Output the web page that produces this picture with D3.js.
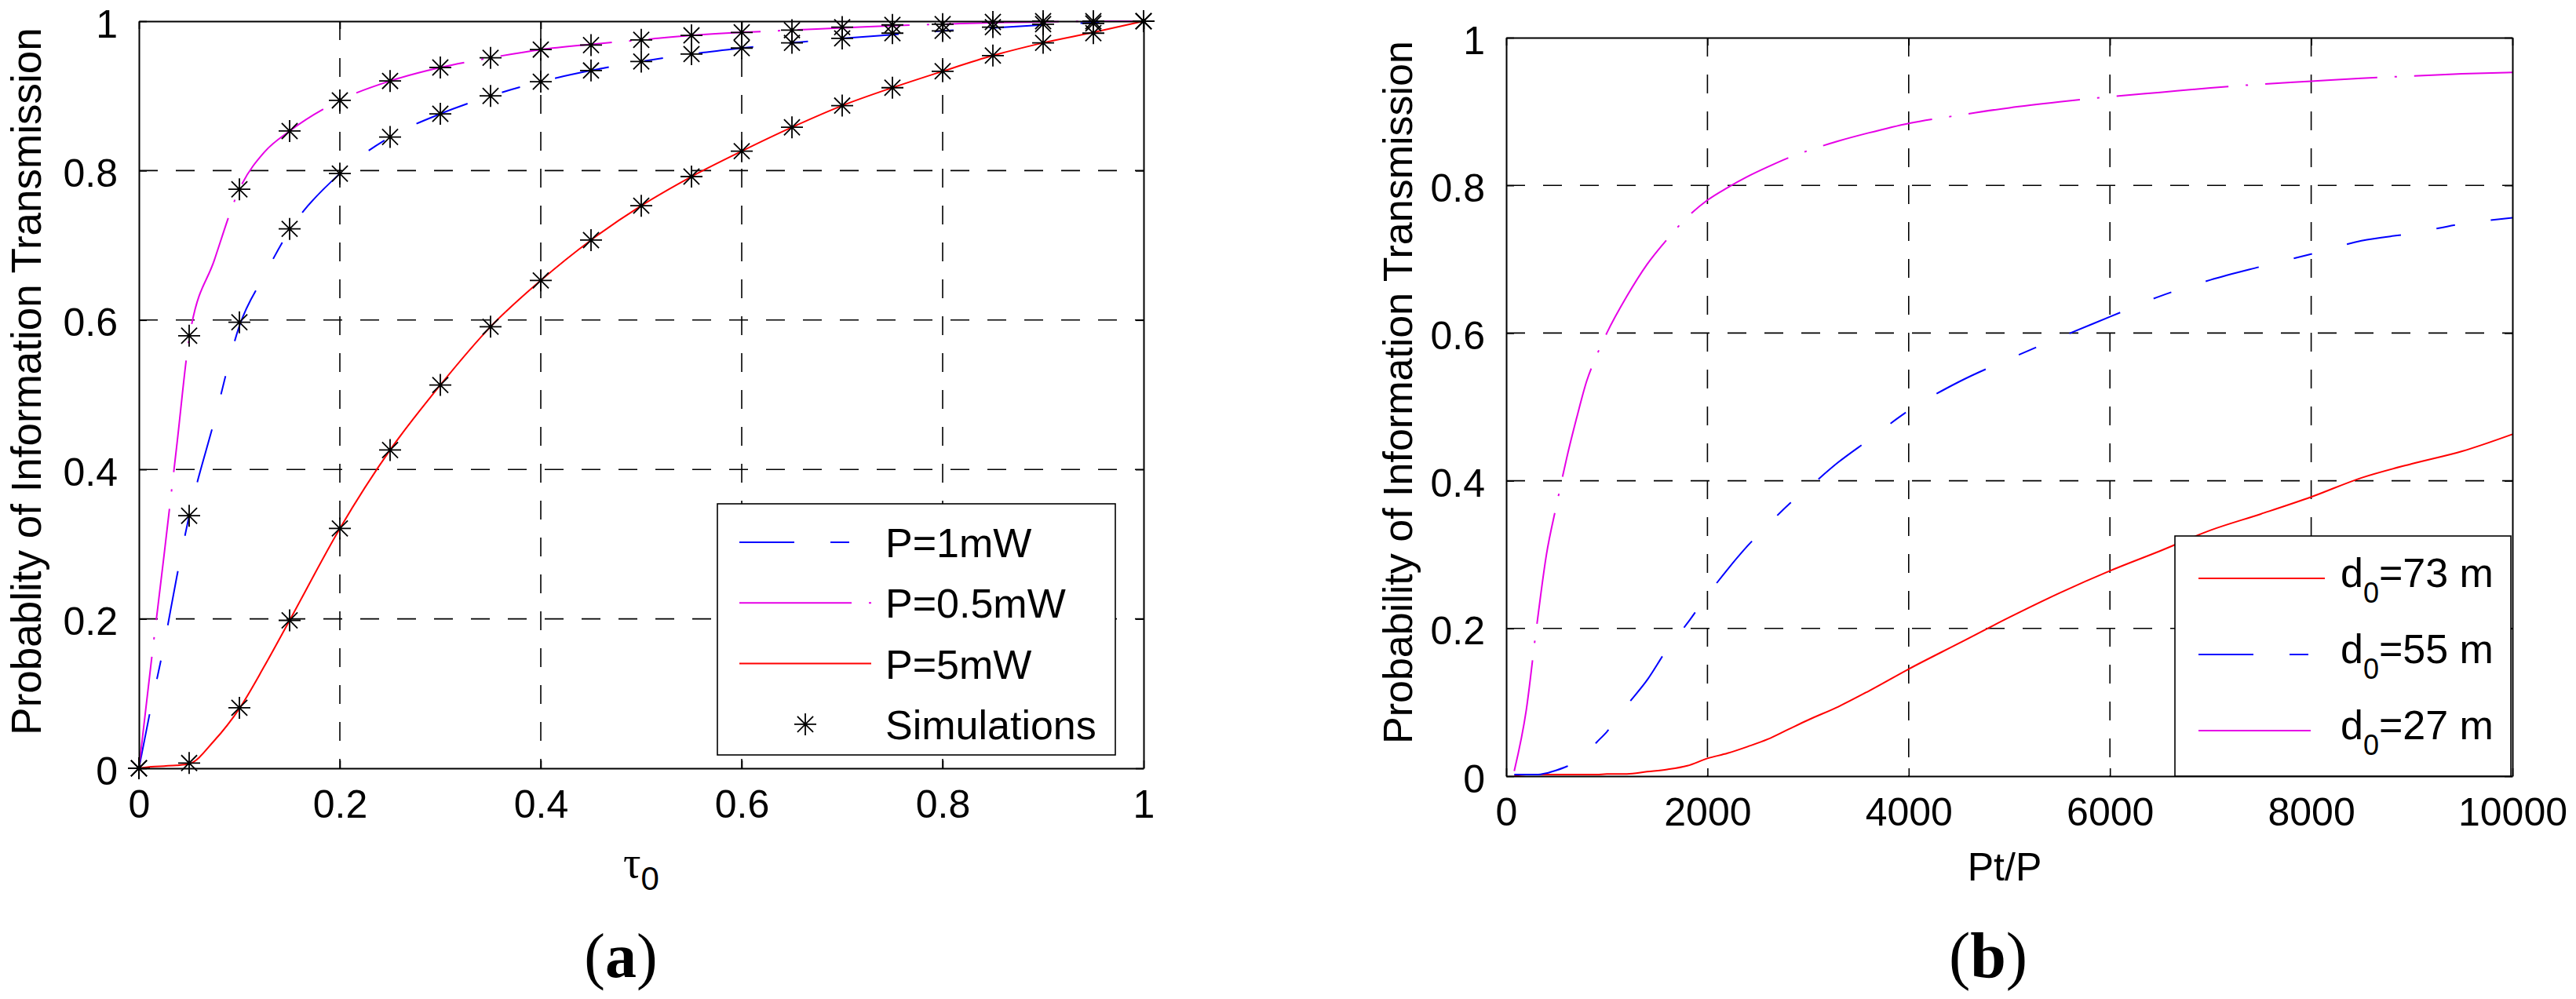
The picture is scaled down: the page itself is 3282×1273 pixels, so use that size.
<!DOCTYPE html>
<html><head><meta charset="utf-8">
<script src="https://cdn.jsdelivr.net/npm/d3@7"></script>
<style>html,body{margin:0;padding:0;background:#fff;} svg{display:block;}</style>
</head><body>
<svg id="c" width="3282" height="1273"></svg>
<script>
// ---------- Panel (a) data ----------
const tauTicks = [0, 0.2, 0.4, 0.6, 0.8, 1];
const tauTickLabels = ["0", "0.2", "0.4", "0.6", "0.8", "1"];
const probTicks = [0, 0.2, 0.4, 0.6, 0.8, 1];
const probTickLabels = ["0", "0.2", "0.4", "0.6", "0.8", "1"];

const tauLine = [0, 0.0125, 0.025, 0.0375, 0.05, 0.075, 0.1, 0.125, 0.15,
  0.2, 0.25, 0.3, 0.35, 0.4, 0.45, 0.5, 0.55, 0.6, 0.65, 0.7, 0.75, 0.8, 0.85, 0.9, 0.95, 1];
const lineP1mW = [0, 0.085, 0.165, 0.255, 0.338, 0.465, 0.592, 0.66, 0.72,
  0.796, 0.845, 0.876, 0.900, 0.919, 0.934, 0.946, 0.956, 0.964, 0.971, 0.977, 0.982, 0.987, 0.991, 0.995, 0.998, 1.0];
const lineP05mW = [0, 0.145, 0.285, 0.43, 0.575, 0.68, 0.775, 0.825, 0.853,
  0.894, 0.920, 0.938, 0.951, 0.962, 0.969, 0.975, 0.981, 0.985, 0.988, 0.991, 0.994, 0.996, 0.998, 0.999, 1.0, 1.0];
const lineP5mW = [0, 0.002, 0.003, 0.004, 0.006, 0.037, 0.08, 0.137, 0.198,
  0.321, 0.426, 0.513, 0.591, 0.653, 0.707, 0.753, 0.792, 0.826, 0.858, 0.887, 0.911, 0.933, 0.954, 0.971, 0.985, 1.0];

const tauSim = [0, 0.05, 0.1, 0.15, 0.2, 0.25, 0.3, 0.35, 0.4, 0.45, 0.5, 0.55, 0.6, 0.65, 0.7, 0.75, 0.8, 0.85, 0.9, 0.95, 1];
const simP1mW = [0, 0.338, 0.597, 0.722, 0.796, 0.845, 0.876, 0.900, 0.919, 0.934, 0.946, 0.956, 0.964, 0.971, 0.977, 0.984, 0.987, 0.992, 0.996, 0.997, 1.0];
const simP05mW = [0, 0.579, 0.775, 0.853, 0.894, 0.920, 0.938, 0.951, 0.962, 0.968, 0.975, 0.981, 0.985, 0.988, 0.992, 0.995, 0.996, 0.999, 1.0, 1.0, 1.0];
const simP5mW = [0, 0.007, 0.081, 0.198, 0.321, 0.426, 0.513, 0.591, 0.653, 0.707, 0.753, 0.792, 0.826, 0.858, 0.887, 0.911, 0.933, 0.954, 0.971, 0.984, 1.0];

const legendA = ["P=1mW", "P=0.5mW", "P=5mW", "Simulations"];

// ---------- Panel (b) data ----------
const ptTicks = [0, 2000, 4000, 6000, 8000, 10000];
const ptTickLabels = ["0", "2000", "4000", "6000", "8000", "10000"];
const ptP = [80, 200, 300, 400, 500, 600, 700, 800, 900, 1000, 1200, 1400, 1600, 1800, 2000,
  2200, 2400, 2600, 2800, 3000, 3300, 3600, 4000, 4500, 5000, 5500, 6000, 6500, 7000, 7500,
  8000, 8500, 9000, 9500, 10000];
const d73 = [0, 0.002, 0.002, 0.002, 0.002, 0.002, 0.002, 0.002, 0.002, 0.003, 0.003, 0.006, 0.009, 0.014, 0.024,
  0.031, 0.04, 0.05, 0.063, 0.076, 0.094, 0.115, 0.145, 0.18, 0.215, 0.248, 0.278, 0.305, 0.333, 0.355,
  0.378, 0.404, 0.423, 0.44, 0.463];
const d55 = [0.002, 0.002, 0.002, 0.004, 0.008, 0.013, 0.02, 0.032, 0.046, 0.06, 0.096, 0.13, 0.172, 0.207, 0.245,
  0.28, 0.312, 0.34, 0.367, 0.39, 0.425, 0.455, 0.495, 0.534, 0.565, 0.594, 0.622, 0.65, 0.672, 0.69,
  0.707, 0.725, 0.735, 0.748, 0.756];
const d27 = [0.007, 0.09, 0.20, 0.30, 0.367, 0.43, 0.485, 0.535, 0.57, 0.60, 0.65, 0.693, 0.727, 0.757, 0.78,
  0.797, 0.812, 0.825, 0.837, 0.847, 0.86, 0.871, 0.884, 0.895, 0.905, 0.913, 0.92, 0.926, 0.932, 0.937,
  0.941, 0.945, 0.948, 0.951, 0.953];
const legendB = [["d", "0", "=73 m"], ["d", "0", "=55 m"], ["d", "0", "=27 m"]];

// ---------- drawing ----------
const svg = d3.select("#c");
const SANS = "'Liberation Sans', Arial, Helvetica, sans-serif";
const SERIF = "'Liberation Serif', 'Times New Roman', serif";
const BLUE = "#0000ff", MAG = "#e600e6", RED = "#ff0000";
const DASH_BLUE = "70,46,24,46", DASH_MAG = "143,22,3,22";

const asterisk = {
  draw(ctx, size) {
    const r = Math.sqrt(size) / 2, d = r * 0.72;
    ctx.moveTo(-r, 0); ctx.lineTo(r, 0);
    ctx.moveTo(0, -r); ctx.lineTo(0, r);
    ctx.moveTo(-d, -d); ctx.lineTo(d, d);
    ctx.moveTo(-d, d); ctx.lineTo(d, -d);
  }
};
const starPath = d3.symbol().type(asterisk).size(28 * 28)();

function makePanel(cfg) {
  const g = svg.append("g");
  const x = d3.scaleLinear().domain(cfg.xDomain).range([cfg.x0, cfg.x1]);
  const y = d3.scaleLinear().domain([0, 1]).range([cfg.y1, cfg.y0]);

  // grid
  const grid = g.append("g").attr("stroke", "#000").attr("stroke-width", 1.6).attr("stroke-dasharray", "24,23");
  grid.selectAll("line.gx").data(cfg.xTicks.slice(1, -1)).join("line").attr("class", "gx")
    .attr("x1", d => x(d)).attr("x2", d => x(d)).attr("y1", cfg.y0).attr("y2", cfg.y1);
  grid.selectAll("line.gy").data(probTicks.slice(1, -1)).join("line").attr("class", "gy")
    .attr("y1", d => y(d)).attr("y2", d => y(d)).attr("x1", cfg.x0).attr("x2", cfg.x1);

  // series
  const line = d3.line().x(d => x(d[0])).y(d => y(d[1])).curve(d3.curveMonotoneX);
  cfg.series.forEach(s => {
    g.append("path").datum(s.xs.map((v, i) => [v, s.ys[i]]))
      .attr("d", line).attr("fill", "none").attr("stroke", s.color).attr("stroke-width", 2)
      .attr("stroke-dasharray", s.dash || null);
  });
  (cfg.sims || []).forEach(s => {
    g.append("g").selectAll("path").data(s.ys).join("path")
      .attr("d", starPath)
      .attr("transform", (d, i) => `translate(${x(s.xs[i])},${y(d)})`)
      .attr("fill", "none").attr("stroke", "#000").attr("stroke-width", 1.8);
  });

  // axes
  const style = sel => {
    sel.attr("font-size", 50).attr("font-family", SANS);
    sel.selectAll(".domain").attr("stroke-width", 2);
    sel.selectAll(".tick line").attr("stroke-width", 1.6);
    sel.selectAll("text").attr("fill", "#000");
  };
  g.append("g").attr("transform", `translate(0,${cfg.y1})`)
    .call(d3.axisBottom(x).tickValues(cfg.xTicks).tickFormat((d, i) => cfg.xLabels[i])
      .tickSizeInner(-10).tickSizeOuter(0).tickPadding(27)).call(style);
  g.append("g").attr("transform", `translate(0,${cfg.y0})`)
    .call(d3.axisTop(x).tickValues(cfg.xTicks).tickFormat("")
      .tickSizeInner(-10).tickSizeOuter(0)).call(style);
  g.append("g").attr("transform", `translate(${cfg.x0},0)`)
    .call(d3.axisLeft(y).tickValues(probTicks).tickFormat((d, i) => probTickLabels[i])
      .tickSizeInner(-10).tickSizeOuter(0).tickPadding(27)).call(style)
    .selectAll(".tick text").attr("dy", "0.4em");
  g.append("g").attr("transform", `translate(${cfg.x1},0)`)
    .call(d3.axisRight(y).tickValues(probTicks).tickFormat("")
      .tickSizeInner(-10).tickSizeOuter(0)).call(style);

  // y label
  g.append("text").attr("transform", `translate(${cfg.ylabX},${cfg.ylabY}) rotate(-90)`)
    .attr("text-anchor", "middle").attr("font-family", SANS).attr("font-size", cfg.ylabSize)
    .text(cfg.ylab);
  return { g, x, y };
}

// ---- Panel (a)
const A = makePanel({
  x0: 177, x1: 1457, y0: 27, y1: 979, xDomain: [0, 1],
  xTicks: tauTicks, xLabels: tauTickLabels,
  series: [
    { xs: tauLine, ys: lineP1mW, color: BLUE, dash: DASH_BLUE },
    { xs: tauLine, ys: lineP05mW, color: MAG, dash: DASH_MAG },
    { xs: tauLine, ys: lineP5mW, color: RED }
  ],
  sims: [
    { xs: tauSim, ys: simP1mW },
    { xs: tauSim, ys: simP05mW },
    { xs: tauSim, ys: simP5mW }
  ],
  ylab: "Probablity of Information Transmission", ylabX: 52, ylabY: 486, ylabSize: 53
});

// legend (a)
{
  const lg = A.g.append("g");
  lg.append("rect").attr("x", 914).attr("y", 642).attr("width", 507).attr("height", 320)
    .attr("fill", "#fff").attr("stroke", "#000").attr("stroke-width", 1.6);
  const cols = [BLUE, MAG, RED];
  const dashes = [DASH_BLUE, DASH_MAG, null];
  legendA.forEach((t, i) => {
    const cy = 691 + i * 77.3;
    if (i < 3) {
      lg.append("line").attr("x1", 942).attr("x2", 1110).attr("y1", cy).attr("y2", cy)
        .attr("stroke", cols[i]).attr("stroke-width", 2).attr("stroke-dasharray", dashes[i]);
    } else {
      lg.append("path").attr("d", starPath).attr("transform", `translate(1026,${cy})`)
        .attr("fill", "none").attr("stroke", "#000").attr("stroke-width", 1.8);
    }
    lg.append("text").attr("x", 1128).attr("y", cy + 19).attr("font-family", SANS)
      .attr("font-size", 52).text(t);
  });
}
// x label (a)
{
  const t = svg.append("text").attr("x", 817).attr("y", 1118).attr("text-anchor", "middle");
  t.append("tspan").attr("font-family", SERIF).attr("font-size", 56).text("τ");
  t.append("tspan").attr("font-family", SANS).attr("font-size", 42).attr("dy", 16).text("0");
  const c = svg.append("text").attr("x", 791).attr("y", 1245).attr("text-anchor", "middle")
    .attr("font-family", SERIF).attr("font-size", 80);
  c.append("tspan").text("(");
  c.append("tspan").attr("font-weight", "bold").text("a");
  c.append("tspan").text(")");
}

// ---- Panel (b)
const B = makePanel({
  x0: 1919, x1: 3201, y0: 48, y1: 989, xDomain: [0, 10000],
  xTicks: ptTicks, xLabels: ptTickLabels,
  series: [
    { xs: ptP, ys: d73, color: RED },
    { xs: ptP, ys: d55, color: BLUE, dash: DASH_BLUE },
    { xs: ptP, ys: d27, color: MAG, dash: DASH_MAG }
  ],
  ylab: "Probability of Information Transmission", ylabX: 1799, ylabY: 500, ylabSize: 52
});
{
  const lg = B.g.append("g");
  lg.append("rect").attr("x", 2771).attr("y", 683).attr("width", 428).attr("height", 306)
    .attr("fill", "#fff").attr("stroke", "#000").attr("stroke-width", 1.6);
  const cols = [RED, BLUE, MAG];
  const dashes = [null, DASH_BLUE, DASH_MAG];
  legendB.forEach((parts, i) => {
    const cy = 737 + i * 97;
    lg.append("line").attr("x1", 2801).attr("x2", 2962).attr("y1", cy).attr("y2", cy)
      .attr("stroke", cols[i]).attr("stroke-width", 2).attr("stroke-dasharray", dashes[i]);
    const t = lg.append("text").attr("x", 2982).attr("y", cy + 11).attr("font-family", SANS).attr("font-size", 52);
    t.append("tspan").text(parts[0]);
    t.append("tspan").attr("font-size", 36).attr("dy", 20).text(parts[1]);
    t.append("tspan").attr("dy", -20).text(parts[2]);
  });
}
{
  svg.append("text").attr("x", 2554).attr("y", 1122).attr("text-anchor", "middle")
    .attr("font-family", SANS).attr("font-size", 50).text("Pt/P");
  const c = svg.append("text").attr("x", 2533).attr("y", 1245).attr("text-anchor", "middle")
    .attr("font-family", SERIF).attr("font-size", 82);
  c.append("tspan").text("(");
  c.append("tspan").attr("font-weight", "bold").text("b");
  c.append("tspan").text(")");
}
</script>
</body></html>
